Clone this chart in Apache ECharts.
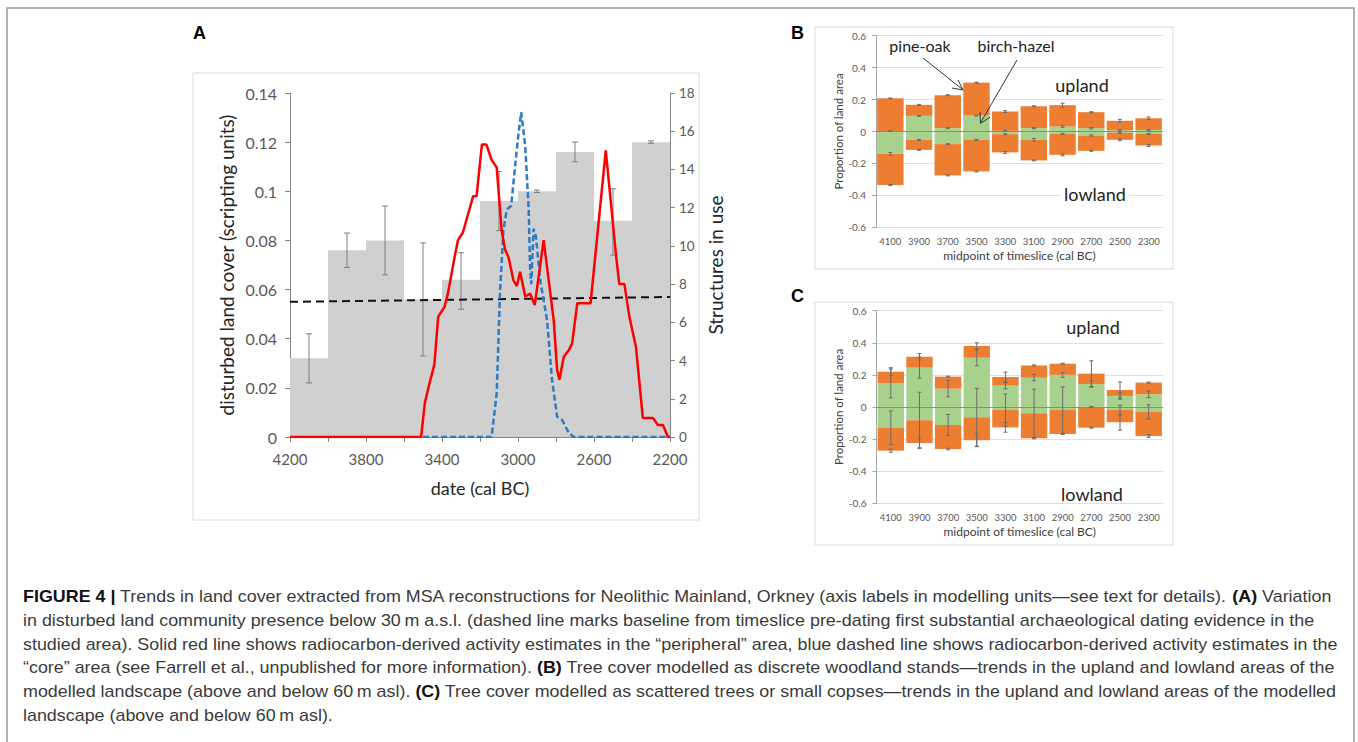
<!DOCTYPE html>
<html><head><meta charset="utf-8">
<script src="https://cdn.jsdelivr.net/npm/echarts@6/dist/echarts.min.js"></script>
<style>html,body{margin:0;padding:0;background:#fff}#c{width:1358px;height:742px}</style>
</head><body><div id="c"></div>
<script>
// ---------- Panel A data ----------
const binStart = [4200, 4000, 3800, 3600, 3400, 3200, 3000, 2800, 2600, 2400];
const binEnd   = [4000, 3800, 3600, 3400, 3200, 3000, 2800, 2600, 2400, 2200];
const disturbed     = [0.032, 0.076, 0.080, 0.056, 0.064, 0.096, 0.100, 0.116, 0.088, 0.120];
const disturbedLow  = [0.022, 0.069, 0.066, 0.033, 0.052, 0.084, 0.0995, 0.112, 0.074, 0.1195];
const disturbedHigh = [0.042, 0.083, 0.094, 0.079, 0.075, 0.108, 0.1005, 0.120, 0.101, 0.1205];
const baselineDates  = [4200, 2200];
const baselineValues = [0.055, 0.057];
const peripheralDates  = [4200,3510,3490,3466,3440,3420,3387,3369,3334,3316,3290,3236,3218,3190,3166,3139,3112,3086,3068,3050,3024,3006,2989,2962,2936,2912,2865,2812,2794,2782,2759,2732,2715,2688,2618,2538,2485,2467,2440,2414,2379,2343,2290,2264,2237,2211,2200];
const peripheralValues = [0,0,1.8,2.8,3.8,6.3,6.8,7.5,9.4,10.3,10.7,12.6,12.6,15.3,15.3,14.5,14.1,10.8,9.8,9.4,8.2,7.9,8.65,7.35,7.5,6.9,10.3,6.1,3.5,3.0,4.2,4.55,4.9,7.0,7.0,15.0,9.6,8.0,8.0,6.3,4.7,1.0,1.0,0.63,0.63,0,0];
const coreDates  = [3500,3139,3112,3095,3077,3059,3036,3015,2997,2983,2962,2944,2936,2930,2918,2906,2883,2847,2821,2794,2768,2732,2706,2200];
const coreValues = [0,0,2.3,7.5,10.8,11.9,12.1,14.2,15.9,17.0,15.2,12.0,8.7,8.0,10.9,10.5,8.2,6.1,3.0,1.06,0.9,0.2,0,0];

// ---------- Panels B and C data ----------
const timeslices = ['4100','3900','3700','3500','3300','3100','2900','2700','2500','2300'];
// B: discrete woodland stands
const bUplandTotal  = [0.208, 0.167, 0.227, 0.306, 0.125, 0.158, 0.165, 0.121, 0.067, 0.083];
const bUplandBirch  = [0.003, 0.098, 0.021, 0.100, 0.004, 0.021, 0.031, 0.021, 0.008, 0.010];
const bLowlandBirch = [-0.140, -0.052, -0.079, -0.052, -0.017, -0.052, -0.015, -0.025, -0.008, -0.015];
const bLowlandTotal = [-0.335, -0.115, -0.275, -0.250, -0.131, -0.181, -0.146, -0.121, -0.052, -0.088];
const bErrUplandTotal  = [0.002, 0.003, 0.003, 0.003, 0.006, 0.003, 0.012, 0.003, 0.009, 0.008];
const bErrUplandBirch  = [0.002, 0.003, 0.003, 0.003, 0.003, 0.003, 0.005, 0.004, 0.003, 0.004];
const bErrLowlandBirch = [0.008, 0.003, 0.003, 0.003, 0.003, 0.008, 0.004, 0.004, 0.003, 0.004];
const bErrLowlandTotal = [0.003, 0.003, 0.003, 0.003, 0.006, 0.003, 0.006, 0.003, 0.006, 0.006];
// C: scattered trees / small copses
const cUplandTotal  = [0.220, 0.313, 0.189, 0.380, 0.187, 0.259, 0.270, 0.208, 0.106, 0.152];
const cUplandBirch  = [0.147, 0.245, 0.114, 0.307, 0.133, 0.183, 0.200, 0.143, 0.069, 0.079];
const cLowlandBirch = [-0.129, -0.083, -0.112, -0.064, -0.019, -0.039, -0.019, 0, -0.019, -0.031];
const cLowlandTotal = [-0.272, -0.224, -0.262, -0.207, -0.127, -0.195, -0.168, -0.129, -0.095, -0.181];
const cErrUplandTotal  = [0.025, 0.020, 0.003, 0.020, 0.030, 0.003, 0.003, 0.080, 0.050, 0.003];
const cErrUplandBirch  = [0.090, 0.065, 0.050, 0.050, 0.020, 0.020, 0.015, 0.020, 0.020, 0.020];
const cErrLowlandBirch = [0.105, 0.175, 0.065, 0.180, 0.100, 0.150, 0.145, 0.003, 0.030, 0.045];
const cErrLowlandTotal = [0.010, 0.030, 0.005, 0.040, 0.030, 0.003, 0.003, 0.003, 0.050, 0.008];

const captionLines = [
  '{b|FIGURE 4 |} Trends in land cover extracted from MSA reconstructions for Neolithic Mainland, Orkney (axis labels in modelling units\u2014see text for details). {b|(A)} Variation',
  'in disturbed land community presence below 30\u2009m a.s.l. (dashed line marks baseline from timeslice pre-dating first substantial archaeological dating evidence in the',
  'studied area). Solid red line shows radiocarbon-derived activity estimates in the \u201cperipheral\u201d area, blue dashed line shows radiocarbon-derived activity estimates in the',
  '\u201ccore\u201d area (see Farrell et al., unpublished for more information). {b|(B)} Tree cover modelled as discrete woodland stands\u2014trends in the upland and lowland areas of the',
  'modelled landscape (above and below 60\u2009m asl). {b|(C)} Tree cover modelled as scattered trees or small copses\u2014trends in the upland and lowland areas of the modelled',
  'landscape (above and below 60\u2009m asl).'
];

// ---------- styles ----------
const FONT = 'Lato, "Open Sans", sans-serif';
const CAPFONT = '"Liberation Sans", Arial, sans-serif';
const ORANGE = '#ed7d31', GREEN = '#a9d18e';

function errItems(totUp, birUp, birLow, totLow, eTU, eBU, eBL, eTL) {
  const out = [];
  for (let i = 0; i < timeslices.length; i++) {
    out.push([i, totUp[i], eTU[i]], [i, birUp[i], eBU[i]], [i, birLow[i], eBL[i]], [i, totLow[i], eTL[i]]);
  }
  return out;
}
function errRender(cap, color) {
  return function (params, api) {
    const x = api.value(0), c = api.value(1), h = api.value(2);
    const top = api.coord([x, c + h]);
    const bot = api.coord([x, c - h]);
    const st = { stroke: color, lineWidth: 1 };
    return { type: 'group', children: [
      { type: 'line', shape: { x1: top[0], y1: top[1], x2: bot[0], y2: bot[1] }, style: st },
      { type: 'line', shape: { x1: top[0] - cap, y1: top[1], x2: top[0] + cap, y2: top[1] }, style: st },
      { type: 'line', shape: { x1: bot[0] - cap, y1: bot[1], x2: bot[0] + cap, y2: bot[1] }, style: st }
    ]};
  };
}
function stackSeries(tag, xi, yi, totUp, birUp, birLow, totLow) {
  const base = { type: 'bar', xAxisIndex: xi, yAxisIndex: yi, stack: tag, barCategoryGap: '8%', silent: true };
  return [
    Object.assign({}, base, { name: tag + 'ub', data: birUp, itemStyle: { color: GREEN },
      markLine: { silent: true, symbol: 'none', label: { show: false },
        lineStyle: { color: '#f0605a', width: 1, type: 'solid' }, data: [{ yAxis: 0 }] } }),
    Object.assign({}, base, { name: tag + 'uo', data: totUp.map((v, i) => v - birUp[i]), itemStyle: { color: ORANGE } }),
    Object.assign({}, base, { name: tag + 'lb', data: birLow, itemStyle: { color: GREEN } }),
    Object.assign({}, base, { name: tag + 'lo', data: totLow.map((v, i) => v - birLow[i]), itemStyle: { color: ORANGE } })
  ];
}
function smallX(gi) {
  return { type: 'category', gridIndex: gi, data: timeslices,
    axisLine: { show: false }, axisTick: { show: false },
    axisLabel: { fontFamily: FONT, fontSize: 9.5, color: '#595959', margin: 9, interval: 0, hideOverlap: false },
    name: 'midpoint of timeslice (cal BC)', nameLocation: 'middle', nameGap: 22,
    nameTextStyle: { fontFamily: FONT, fontSize: 12, color: '#404040' } };
}
function smallY(gi) {
  return { type: 'value', gridIndex: gi, min: -0.6, max: 0.6, interval: 0.2,
    axisLine: { show: true, lineStyle: { color: '#a6a6a6' } },
    axisTick: { show: true, length: 4, lineStyle: { color: '#a6a6a6' } },
    splitLine: { show: true, lineStyle: { color: '#e0e0e0' } },
    axisLabel: { fontFamily: FONT, fontSize: 10, color: '#595959', margin: 10 },
    name: 'Proportion of land area', nameLocation: 'middle', nameGap: 32, nameRotate: 90,
    nameTextStyle: { fontFamily: FONT, fontSize: 11.5, color: '#404040' } };
}
function note(x, y, text, size, bg) {
  const s = { text: text, font: size + 'px ' + FONT, fill: '#222', align: 'center', verticalAlign: 'middle' };
  if (bg) { s.backgroundColor = '#ffffff'; s.padding = [0, 3]; }
  return { type: 'text', x: x, y: y, z: 10, silent: true, style: s };
}

// caption scaling
const mctx = document.createElement('canvas').getContext('2d');
mctx.font = '16px ' + CAPFONT;
const capScale = 1314 / mctx.measureText(captionLines[2]).width;
const capY = [597, 621, 644.5, 668, 692, 715.5];

const chart = echarts.init(document.getElementById('c'), null, { renderer: 'svg', width: 1358, height: 742 });

const option = {
  backgroundColor: '#ffffff',
  animation: false,
  grid: [
    { left: 290, top: 93, width: 380, height: 344 },
    { left: 876, top: 35.7, width: 287, height: 191.6 },
    { left: 876.5, top: 310.7, width: 286.5, height: 192.6 }
  ],
  xAxis: [
    { type: 'value', gridIndex: 0, min: 2200, max: 4200, interval: 200, inverse: true,
      axisLine: { show: true, lineStyle: { color: '#868686' } },
      axisTick: { show: true, length: 5, lineStyle: { color: '#868686' } },
      splitLine: { show: false },
      axisLabel: { fontFamily: FONT, fontSize: 15, color: '#595959', margin: 14,
        formatter: v => (v % 400 === 200 ? String(v) : '') },
      name: 'date (cal BC)', nameLocation: 'middle', nameGap: 42,
      nameTextStyle: { fontFamily: FONT, fontSize: 18, color: '#262626' } },
    smallX(1), smallX(2)
  ],
  yAxis: [
    { type: 'value', gridIndex: 0, min: 0, max: 0.14, interval: 0.02,
      axisLine: { show: true, lineStyle: { color: '#868686' } },
      axisTick: { show: true, length: 5, lineStyle: { color: '#868686' } },
      splitLine: { show: false },
      axisLabel: { fontFamily: FONT, fontSize: 16, color: '#595959', margin: 13 },
      name: 'disturbed land cover (scripting units)', nameLocation: 'middle', nameGap: 54, nameRotate: 90,
      nameTextStyle: { fontFamily: FONT, fontSize: 19, color: '#262626' } },
    { type: 'value', gridIndex: 0, position: 'right', min: 0, max: 18, interval: 2,
      axisLine: { show: true, lineStyle: { color: '#868686' } },
      axisTick: { show: true, length: 5, lineStyle: { color: '#868686' } },
      splitLine: { show: false },
      axisLabel: { fontFamily: FONT, fontSize: 13.5, color: '#595959', margin: 9 },
      name: 'Structures in use', nameLocation: 'middle', nameGap: 36, nameRotate: 90,
      nameTextStyle: { fontFamily: FONT, fontSize: 19, color: '#262626' } },
    smallY(1), smallY(2)
  ],
  series: [
    { type: 'custom', name: 'disturbed', xAxisIndex: 0, yAxisIndex: 0, z: 1, silent: true,
      encode: { x: [0, 1], y: 2 },
      data: binStart.map((s, i) => [s, binEnd[i], disturbed[i]]),
      renderItem: function (params, api) {
        const p1 = api.coord([api.value(0), api.value(2)]);
        const p2 = api.coord([api.value(1), 0]);
        return { type: 'rect', shape: { x: Math.min(p1[0], p2[0]), y: p1[1], width: Math.abs(p2[0] - p1[0]), height: p2[1] - p1[1] },
          style: { fill: '#d0d0d0' } };
      } },
    { type: 'custom', name: 'disturbedErr', xAxisIndex: 0, yAxisIndex: 0, z: 2, silent: true,
      encode: { x: 0, y: [1, 2] },
      data: binStart.map((s, i) => [(s + binEnd[i]) / 2, (disturbedLow[i] + disturbedHigh[i]) / 2, (disturbedHigh[i] - disturbedLow[i]) / 2]),
      renderItem: errRender(3, '#7f7f7f') },
    { type: 'line', name: 'baseline', xAxisIndex: 0, yAxisIndex: 0, z: 3, symbol: 'none', silent: true,
      data: baselineDates.map((d, i) => [d, baselineValues[i]]),
      lineStyle: { color: '#111', width: 2, type: [8, 5] } },
    { type: 'line', name: 'core', xAxisIndex: 0, yAxisIndex: 1, z: 4, symbol: 'none', silent: true,
      data: coreDates.map((d, i) => [d, coreValues[i]]),
      lineStyle: { color: '#2e7bc4', width: 2.5, type: [6, 3] } },
    { type: 'line', name: 'peripheral', xAxisIndex: 0, yAxisIndex: 1, z: 5, symbol: 'none', silent: true,
      data: peripheralDates.map((d, i) => [d, peripheralValues[i]]),
      lineStyle: { color: '#ff0000', width: 2.5 } },
    ...stackSeries('B', 1, 2, bUplandTotal, bUplandBirch, bLowlandBirch, bLowlandTotal),
    ...stackSeries('C', 2, 3, cUplandTotal, cUplandBirch, cLowlandBirch, cLowlandTotal),
    { type: 'custom', name: 'Berr', xAxisIndex: 1, yAxisIndex: 2, z: 6, silent: true, encode: { x: 0, y: 1 },
      data: errItems(bUplandTotal, bUplandBirch, bLowlandBirch, bLowlandTotal, bErrUplandTotal, bErrUplandBirch, bErrLowlandBirch, bErrLowlandTotal),
      renderItem: errRender(2, '#6b6b6b') },
    { type: 'custom', name: 'Cerr', xAxisIndex: 2, yAxisIndex: 3, z: 6, silent: true, encode: { x: 0, y: 1 },
      data: errItems(cUplandTotal, cUplandBirch, cLowlandBirch, cLowlandTotal, cErrUplandTotal, cErrUplandBirch, cErrLowlandBirch, cErrLowlandTotal),
      renderItem: errRender(2, '#6b6b6b') }
  ],
  graphic: [
    { type: 'polyline', shape: { points: [[7, 742], [7, 8], [1354, 8], [1354, 742]] }, style: { stroke: '#9a9a9a', fill: null, lineWidth: 1.5 }, silent: true, z: -1 },
    { type: 'rect', shape: { x: 193, y: 73, width: 506, height: 447 }, style: { stroke: '#d9d9d9', fill: null, lineWidth: 1 }, silent: true, z: -1 },
    { type: 'rect', shape: { x: 815, y: 27, width: 358, height: 242 }, style: { stroke: '#d9d9d9', fill: null, lineWidth: 1 }, silent: true, z: -1 },
    { type: 'rect', shape: { x: 815, y: 302, width: 358, height: 243 }, style: { stroke: '#d9d9d9', fill: null, lineWidth: 1 }, silent: true, z: -1 },
    { type: 'text', x: 193, y: 33, style: { text: 'A', font: 'bold 18px "Liberation Sans", Arial, sans-serif', fill: '#000', verticalAlign: 'middle' } },
    { type: 'text', x: 791, y: 33, style: { text: 'B', font: 'bold 18px "Liberation Sans", Arial, sans-serif', fill: '#000', verticalAlign: 'middle' } },
    { type: 'text', x: 791, y: 296, style: { text: 'C', font: 'bold 18px "Liberation Sans", Arial, sans-serif', fill: '#000', verticalAlign: 'middle' } },
    note(920, 45, 'pine-oak', 16, true),
    note(1016, 45, 'birch-hazel', 16, true),
    note(1082, 85, 'upland', 18, true),
    note(1095, 194, 'lowland', 18, true),
    note(1093, 327, 'upland', 18, true),
    note(1092, 494, 'lowland', 18, true),
    { type: 'line', shape: { x1: 923, y1: 58, x2: 962, y2: 89 }, style: { stroke: '#333', lineWidth: 1 }, silent: true, z: 11 },
    { type: 'polyline', shape: { points: [[952, 88], [963, 90], [958, 80]] }, style: { stroke: '#333', fill: null, lineWidth: 1 }, silent: true, z: 11 },
    { type: 'line', shape: { x1: 1017, y1: 60, x2: 981, y2: 122 }, style: { stroke: '#333', lineWidth: 1 }, silent: true, z: 11 },
    { type: 'polyline', shape: { points: [[980, 112], [980.5, 123.5], [990, 117]] }, style: { stroke: '#333', fill: null, lineWidth: 1 }, silent: true, z: 11 }
  ].concat(captionLines.map((t, i) => ({
    type: 'text', x: 23, y: capY[i], scaleX: capScale, silent: true,
    style: { text: t, fontFamily: CAPFONT, fontSize: 16, fill: '#3a3a3a', verticalAlign: 'middle',
      rich: { b: { fontFamily: CAPFONT, fontSize: 16, fontWeight: 'bold', fill: '#111' } } }
  })))
};
chart.setOption(option);
</script></body></html>
